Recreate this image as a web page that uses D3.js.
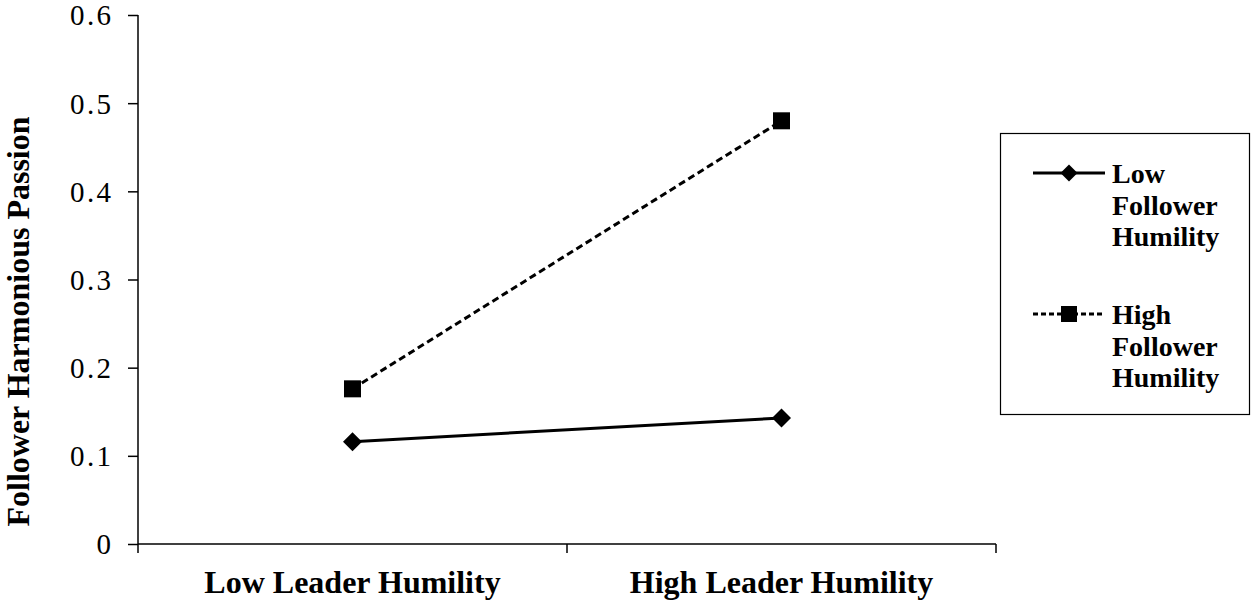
<!DOCTYPE html>
<html>
<head>
<meta charset="utf-8">
<script src="https://cdn.jsdelivr.net/npm/d3@7/dist/d3.min.js"></script>
<style>
  html, body { margin: 0; padding: 0; background: #fff; }
  svg { display: block; }
  text { font-family: "Liberation Serif", "Times New Roman", serif; fill: #000; }
</style>
</head>
<body>
<svg id="chart" width="1253" height="604"></svg>
<script>
const categories = ["Low Leader Humility", "High Leader Humility"];
const seriesNames = ["Low Follower Humility", "High Follower Humility"];
const lowFollower = [0.116, 0.143];
const highFollower = [0.176, 0.48];
const yTicks = [0, 0.1, 0.2, 0.3, 0.4, 0.5, 0.6];
const legendLines = [["Low", "Follower", "Humility"], ["High", "Follower", "Humility"]];

(function () {
const svg = d3.select("#chart");
const pL = 138, pR = 996, pT = 15, pB = 544;

const x = d3.scaleBand().domain(categories).range([pL, pR]);
const y = d3.scaleLinear().domain([0, 0.6]).range([pB, pT]);

// Y axis
const yAxis = svg.append("g").attr("transform", `translate(${pL},0)`)
  .call(d3.axisLeft(y).tickValues(yTicks).tickSize(10).tickPadding(17)
    .tickFormat(d => d === 0 ? "0" : d3.format(".1f")(d)));
yAxis.select(".domain").attr("stroke", "#000").attr("stroke-width", 1.5).attr("d", `M0,${pT}V${pB}`);
yAxis.selectAll(".tick line").attr("stroke", "#000").attr("stroke-width", 1.5);
yAxis.selectAll(".tick text").attr("font-size", 29).attr("font-family", "Liberation Serif")
  .attr("fill", "#000").attr("text-anchor", "end").attr("dy", "0.34em")
  .attr("textLength", d => d === 0 ? null : 41).attr("lengthAdjust", "spacing");

// X axis
const xAxis = svg.append("g").attr("transform", `translate(0,${pB})`)
  .call(d3.axisBottom(x).tickSize(0).tickPadding(26));
xAxis.select(".domain").attr("stroke", "#000").attr("stroke-width", 1.5).attr("d", `M${pL},0H${pR}`);
xAxis.selectAll(".tick text").attr("font-size", 32).attr("font-weight", "bold")
  .attr("font-family", "Liberation Serif").attr("fill", "#000");
const bounds = [pL, pL + x.bandwidth(), pR];
xAxis.selectAll(".bound").data(bounds).enter().append("line")
  .attr("x1", d => d).attr("x2", d => d).attr("y1", 0).attr("y2", 9)
  .attr("stroke", "#000").attr("stroke-width", 1.5);

// Y title
svg.append("text")
  .attr("transform", `translate(29,${(113 + 530) / 2}) rotate(-90)`)
  .attr("text-anchor", "middle")
  .attr("font-size", 32).attr("font-weight", "bold")
  .text("Follower Harmonious Passion");

const cx = d => x(d) + x.bandwidth() / 2;
const line = d3.line().x(d => cx(d.c)).y(d => y(d.v));

const lowData = categories.map((c, i) => ({ c, v: lowFollower[i] }));
const highData = categories.map((c, i) => ({ c, v: highFollower[i] }));

svg.append("path").datum(lowData).attr("d", line)
  .attr("fill", "none").attr("stroke", "#000").attr("stroke-width", 3);
svg.append("path").datum(highData).attr("d", line)
  .attr("fill", "none").attr("stroke", "#000").attr("stroke-width", 3)
  .attr("stroke-dasharray", "7,4");

const diamond = s => `M0,${-s}L${s},0L0,${s}L${-s},0Z`;
svg.selectAll(".dia").data(lowData).enter().append("path")
  .attr("transform", d => `translate(${cx(d.c)},${y(d.v)})`)
  .attr("d", diamond(9.5)).attr("fill", "#000");
svg.selectAll(".sq").data(highData).enter().append("rect")
  .attr("x", d => cx(d.c) - 8.5).attr("y", d => y(d.v) - 8.5)
  .attr("width", 17).attr("height", 17).attr("fill", "#000");

// Legend
const lg = svg.append("g");
lg.append("rect").attr("x", 1000.5).attr("y", 133.5).attr("width", 249).attr("height", 281)
  .attr("fill", "#fff").attr("stroke", "#000").attr("stroke-width", 1.2);
const legY = [173, 314];
seriesNames.forEach((name, i) => {
  const yy = legY[i];
  lg.append("line").attr("x1", 1033).attr("x2", 1105).attr("y1", yy).attr("y2", yy)
    .attr("stroke", "#000").attr("stroke-width", 3)
    .attr("stroke-dasharray", i === 0 ? null : "5,3");
  if (i === 0) {
    lg.append("path").attr("transform", `translate(1069,${yy})`).attr("d", diamond(8.5)).attr("fill", "#000");
  } else {
    lg.append("rect").attr("x", 1061).attr("y", yy - 8).attr("width", 16).attr("height", 16).attr("fill", "#000");
  }
  const t = lg.append("text").attr("x", 1112).attr("y", yy + 10)
    .attr("font-size", 28).attr("font-weight", "bold");
  legendLines[i].forEach((w, j) => {
    t.append("tspan").attr("x", 1112).attr("dy", j === 0 ? 0 : 31.5).text(w);
  });
});
})();
</script>
</body>
</html>
